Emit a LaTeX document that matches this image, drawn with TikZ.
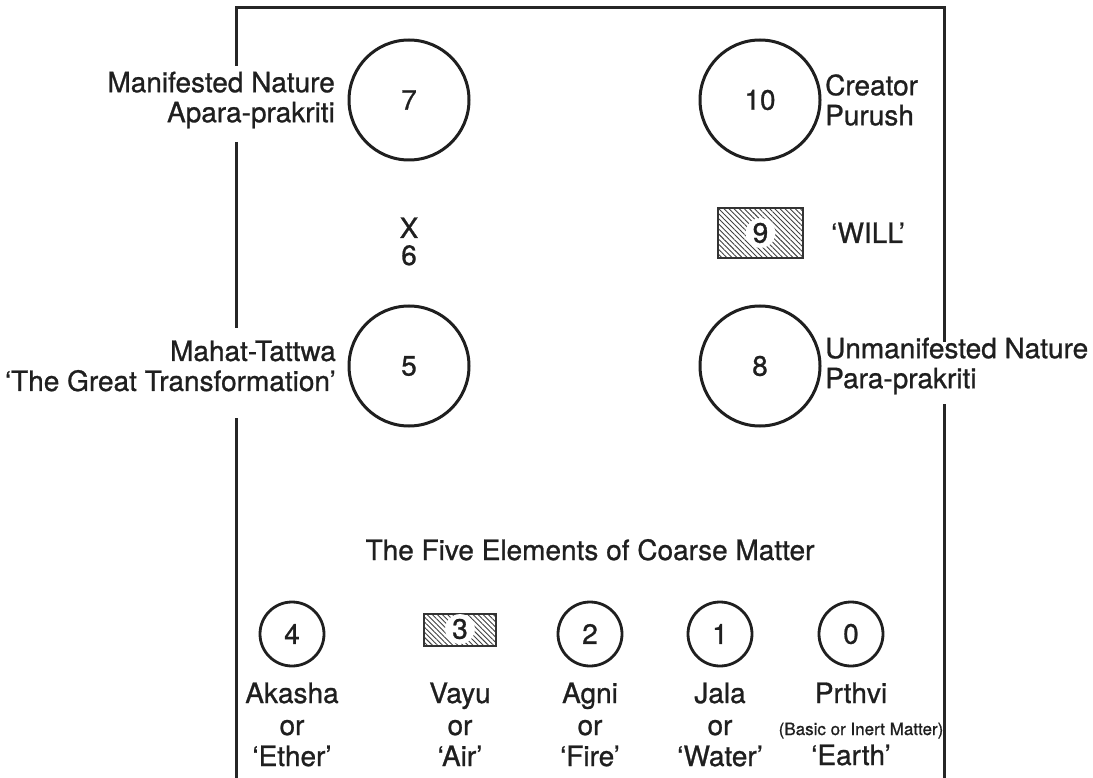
\documentclass[tikz,border=0pt]{standalone}
\usepackage{fontspec}
\setmainfont{TeX Gyre Heros}[FakeBold=0.9]
\usetikzlibrary{patterns.meta}
\begin{document}
\begin{tikzpicture}[x=1pt,y=-1pt,
  frame/.style={line width=3pt, draw=black!85},
  bigc/.style={circle, draw=black!88, line width=3pt, minimum size=120pt, inner sep=0pt, text=black!88, font=\fontsize{28}{30}\selectfont},
  smallc/.style={circle, draw=black!88, line width=2.8pt, minimum size=64pt, inner sep=0pt, text=black!88, font=\fontsize{28}{30}\selectfont},
  hatch/.style={draw=black!80, line width=1.8pt, pattern={Lines[angle=-45,distance=3.6pt,line width=0.9pt]}, pattern color=black!75},
  num/.style={circle, fill=white, inner sep=1.5pt, text=black!88, font=\fontsize{28}{30}\selectfont},
  lbl/.style={inner sep=0pt, text=black!88, font=\fontsize{28}{30}\selectfont},
  tiny/.style={inner sep=0pt, text=black!88, font=\fontsize{17}{19}\selectfont},
]
\useasboundingbox (0,0) rectangle (1093,778);

% frame
\coordinate (L1) at (236,66);
\coordinate (TL) at (236,8);
\coordinate (TR) at (944,8);
\coordinate (R1) at (944,342);
\coordinate (L2) at (236,142);
\coordinate (L3) at (236,328);
\coordinate (L4) at (236,418);
\coordinate (L5) at (236,778);
\coordinate (R2) at (944,404);
\coordinate (R3) at (944,778);
\draw[frame] (L1) -- (TL) -- (TR) -- (R1);
\draw[frame] (L2) -- (L3);
\draw[frame] (L4) -- (L5);
\draw[frame] (R2) -- (R3);

% big circles
\node[bigc] (c7) at (409,100) {7};
\node[bigc] (c10) at (760,100) {10};
\node[bigc] (c5) at (409,366) {5};
\node[bigc] (c8) at (760,366) {8};

% labels of big circles
\node[lbl, align=right, anchor=east] (l7) at (335,100) {Manifested Nature\\Apara-prakriti};
\node[lbl, align=left, anchor=west] (l10) at (825,100) {Creator\\Purush};
\node[lbl, align=right, anchor=east] (l5) at (336,366) {Mahat-Tattwa\\‘The Great Transformation’};
\node[lbl, align=left, anchor=west] (l8) at (825,366) {Unmanifested Nature\\Para-prakriti};

% X 6
\node[lbl, anchor=base] (x6a) at (409,238) {X};
\node[lbl, anchor=base] (x6b) at (409,265) {6};

% box 9
\draw[hatch] (718,208) rectangle (803,258);
\node[num] (n9) at (760.5,233) {9};
\node[lbl, anchor=base] (will) at (868,243) {‘WILL’};

% title
\node[lbl, anchor=base] (title) at (590,560) {The Five Elements of Coarse Matter};

% small circles
\node[smallc] (c4) at (292,634) {4};
\node[smallc] (c2) at (590,634) {2};
\node[smallc] (c1) at (720,634) {1};
\node[smallc] (c0) at (851,634) {0};
\draw[hatch] (424,614) rectangle (496,646);
\node[num] (n3) at (460,629) {3};

% bottom labels
\foreach \nm/\x/\a/\b/\c in {ak/292/Akasha/or/‘Ether’, va/460/Vayu/or/‘Air’, ag/590/Agni/or/‘Fire’, ja/720/Jala/or/‘Water’}{
  \node[lbl, anchor=base] (\nm1) at (\x,703) {\a};
  \node[lbl, anchor=base] (\nm2) at (\x,735) {\b};
  \node[lbl, anchor=base] (\nm3) at (\x,766) {\c};
}
\node[lbl, anchor=base] (pr1) at (851,703) {Prthvi};
\node[tiny, anchor=base] (pr2) at (861,735) {(Basic or Inert Matter)};
\node[lbl, anchor=base] (pr3) at (851,765) {‘Earth’};
\end{tikzpicture}
\end{document}
